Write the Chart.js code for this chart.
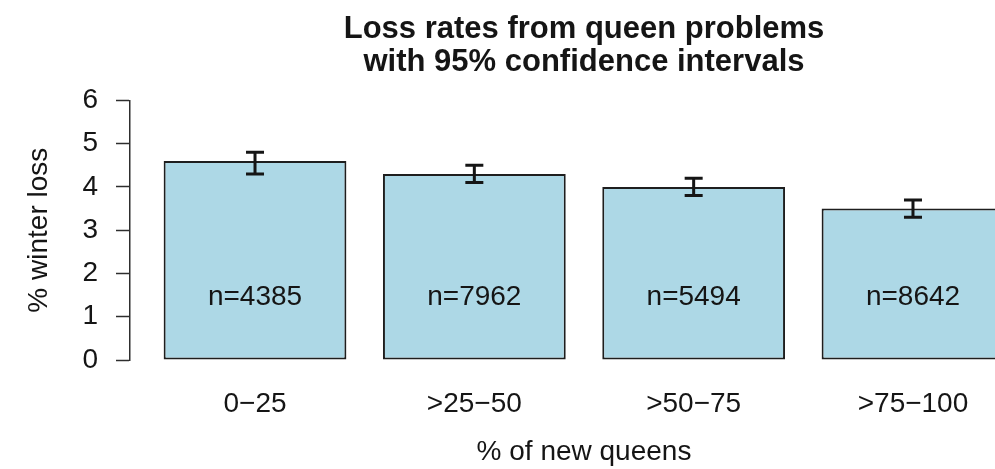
<!DOCTYPE html>
<html>
<head>
<meta charset="utf-8">
<title>Loss rates from queen problems</title>
<script src="https://cdn.jsdelivr.net/npm/chart.js@4.4.1/dist/chart.umd.min.js"></script>
<style>
  html, body { margin: 0; padding: 0; background: #fff; overflow: hidden; }
  #wrap { width: 1060px; height: 469px; }
</style>
</head>
<body>
<div id="wrap"><canvas id="lossChart" width="1060" height="469"></canvas></div>
<script>
const queenGroups = ["0\u221225", ">25\u221250", ">50\u221275", ">75\u2212100"];
const lossRates = [4.6, 4.3, 4.0, 3.5];
const ciLower = [4.3, 4.1, 3.8, 3.3];
const ciUpper = [4.8, 4.5, 4.2, 3.7];
const sampleSizes = [4385, 7962, 5494, 8642];
const yTicks = [0, 1, 2, 3, 4, 5, 6];

const ink = "#151515";
const fontFamily = "'Liberation Sans', Arial, Helvetica, sans-serif";

// 95% CI whiskers plus the "n=" count written inside each bar
const errorBars = {
  id: "errorBars",
  afterDatasetsDraw(chart, args, opts) {
    const ctx = chart.ctx;
    const xs = chart.scales.x;
    const ys = chart.scales.y;
    ctx.save();
    ctx.strokeStyle = ink;
    ctx.lineWidth = opts.lineWidth;
    ctx.lineCap = "butt";
    ctx.fillStyle = ink;
    ctx.font = "28px " + fontFamily;
    ctx.textAlign = "center";
    ctx.textBaseline = "middle";
    queenGroups.forEach((g, i) => {
      const px = xs.getPixelForValue(i);
      const top = ys.getPixelForValue(ciUpper[i]);
      const bot = ys.getPixelForValue(ciLower[i]);
      ctx.beginPath();
      ctx.moveTo(px, top);
      ctx.lineTo(px, bot);
      ctx.moveTo(px - opts.cap, top);
      ctx.lineTo(px + opts.cap, top);
      ctx.moveTo(px - opts.cap, bot);
      ctx.lineTo(px + opts.cap, bot);
      ctx.stroke();
      ctx.fillText("n=" + sampleSizes[i], px, ys.getPixelForValue(opts.labelAt));
    });
    ctx.restore();
  }
};

new Chart(document.getElementById("lossChart"), {
  type: "bar",
  data: {
    datasets: [{
      data: lossRates.map((v, i) => ({ x: i, y: v })),
      backgroundColor: "#ADD8E6",
      borderColor: "#1e1e1e",
      borderWidth: 2,
      borderSkipped: false,
      barPercentage: 1 / 1.2,
      categoryPercentage: 1
    }]
  },
  options: {
    responsive: false,
    animation: false,
    layout: { padding: { left: 0, right: 22, top: 0, bottom: 0 } },
    plugins: {
      legend: { display: false },
      tooltip: { enabled: false },
      title: {
        display: true,
        fullSize: false,
        text: ["Loss rates from queen problems", "with 95% confidence intervals"],
        color: ink,
        font: { family: fontFamily, size: 31, weight: "bold", lineHeight: 1.07 },
        padding: { top: 13, bottom: 21 }
      },
      errorBars: { lineWidth: 3, cap: 9, labelAt: 1.45 }
    },
    scales: {
      x: {
        type: "linear",
        offset: false,
        min: -0.57,
        max: 3.57,
        afterBuildTicks: (scale) => {
          scale.ticks = queenGroups.map((g, i) => ({ value: i }));
        },
        afterFit: (scale) => { scale.height = 109; },
        grid: { display: false, drawTicks: false, offset: false },
        border: { display: false },
        ticks: {
          autoSkip: false,
          maxRotation: 0,
          padding: 27,
          color: ink,
          font: { family: fontFamily, size: 28, lineHeight: 1.2 },
          callback: (v) => queenGroups[v]
        },
        title: {
          display: true,
          text: "% of new queens",
          color: ink,
          font: { family: fontFamily, size: 28, lineHeight: 1.2 },
          padding: { top: 0, bottom: 0 }
        }
      },
      y: {
        min: 0,
        max: 6,
        afterBuildTicks: (scale) => {
          scale.ticks = yTicks.map((v) => ({ value: v }));
        },
        afterFit: (scale) => { scale.width = 130; },
        grid: {
          drawOnChartArea: false,
          drawTicks: true,
          tickLength: 14,
          tickColor: "#2e2e2e",
          tickWidth: 1.5
        },
        border: { display: true, color: "#2e2e2e", width: 1.5 },
        ticks: {
          padding: 18,
          color: ink,
          font: { family: fontFamily, size: 28, lineHeight: 1.2 }
        },
        title: {
          display: true,
          text: "% winter loss",
          color: ink,
          font: { family: fontFamily, size: 28, lineHeight: 1.2 },
          padding: { top: 22, bottom: 0 }
        }
      }
    }
  },
  plugins: [errorBars]
});
</script>
</body>
</html>
